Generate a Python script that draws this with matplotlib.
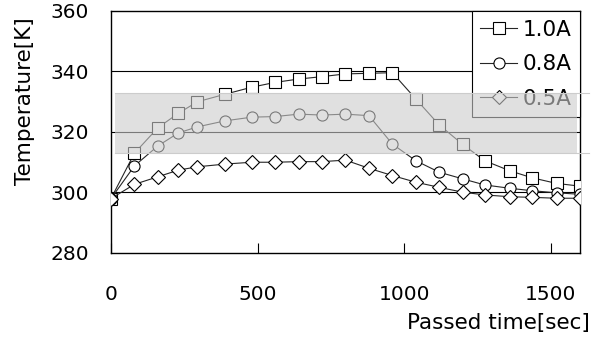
import numpy as np
import matplotlib.pyplot as plt
from matplotlib.patches import Rectangle

plt.rcParams['font.family'] = ['DejaVu Sans']

# time [sec]
t = [0, 80, 160, 230, 295, 390, 480, 560, 640, 720, 800, 880, 960,
     1040, 1120, 1200, 1275, 1360, 1435, 1520, 1600]

temp_10 = [298.0, 313.0, 321.4, 326.2, 330.0, 332.5, 334.8, 336.4, 337.5, 338.3, 339.2,
           339.4, 339.6, 330.9, 322.3, 315.9, 310.5, 307.2, 304.9, 303.0, 302.1]
temp_08 = [298.0, 308.8, 315.4, 319.7, 321.7, 323.7, 324.9, 325.1, 325.9, 325.6, 325.9,
           325.4, 316.0, 310.5, 306.7, 304.5, 302.5, 301.4, 300.6, 299.9, 299.4]
temp_05 = [298.0, 302.7, 305.2, 307.4, 308.5, 309.4, 310.0, 310.0, 310.2, 310.2, 310.7,
           308.0, 305.6, 303.4, 301.7, 300.1, 299.2, 298.6, 298.4, 298.1, 298.1]

band_lo, band_hi = 313, 333

fig = plt.figure(figsize=(6.02, 3.38), dpi=100)
ax = fig.add_axes([0.1844, 0.2515, 0.779, 0.716])

ax.set_xlim(0, 1600)
ax.set_ylim(280, 360)
ax.set_xticks([0, 500, 1000, 1500])
ax.set_yticks([280, 300, 320, 340, 360])
for y in [300, 320, 340]:
    ax.axhline(y, color='black', lw=0.8, zorder=1)

style = dict(color='0.15', lw=0.8, mfc='white', mec='black', mew=0.8)
ax.plot(t, temp_10, marker='s', ms=8, label='1.0A', zorder=3, **style)
ax.plot(t, temp_08, marker='o', ms=8, label='0.8A', zorder=3, **style)
ax.plot(t, temp_05, marker='D', ms=7.5, label='0.5A', zorder=3, **style)

leg = ax.legend(loc='upper right', bbox_to_anchor=(1, 1), borderaxespad=0,
                fancybox=False, edgecolor='black', framealpha=1, fontsize=15.5,
                handlelength=1.7, handletextpad=0.25, labelspacing=0.68,
                borderpad=0.4)
leg.get_frame().set_linewidth(0.8)
leg.set_zorder(5)

# translucent band over everything
ax.add_patch(Rectangle((15, band_lo), 1575, band_hi - band_lo, facecolor='0.8',
                       alpha=0.6, edgecolor='none', zorder=6))
for y in [band_lo, band_hi]:
    ax.plot([15, 1630], [y, y], color='0.8', lw=0.8, clip_on=False, zorder=6)

ax.tick_params(axis='x', direction='in', length=7, width=0.8, pad=23, labelsize=14.5)
ax.tick_params(axis='y', length=0, pad=16, labelsize=14.5)
for s in ax.spines.values():
    s.set_linewidth(1.0)

ax.set_xlabel('Passed time[sec]', fontsize=15.5, ha='right', va='center')
ax.xaxis.set_label_coords(1.021, -0.289)
ax.set_ylabel('Temperature[K]', fontsize=15.5, va='center')
ax.yaxis.set_label_coords(-0.183, 0.628)

fig.savefig('out.png', dpi=100)
